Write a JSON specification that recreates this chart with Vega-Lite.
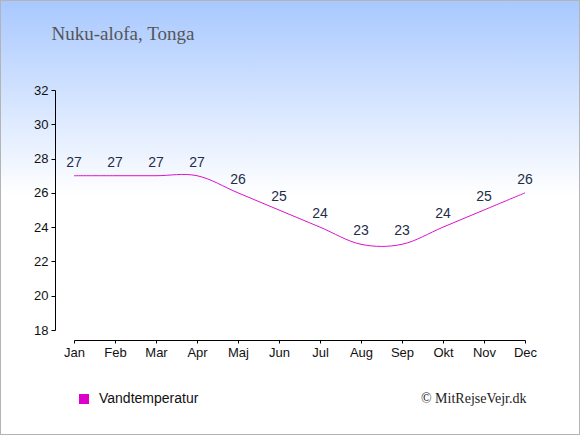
{
  "$schema": "https://vega.github.io/schema/vega-lite/v6.json",
  "width": 580,
  "height": 435,
  "autosize": {"type": "none"},
  "padding": 0,
  "background": "white",
  "data": {
    "values": [
      {"month": "Jan", "temp": 27},
      {"month": "Feb", "temp": 27},
      {"month": "Mar", "temp": 27},
      {"month": "Apr", "temp": 27},
      {"month": "Maj", "temp": 26},
      {"month": "Jun", "temp": 25},
      {"month": "Jul", "temp": 24},
      {"month": "Aug", "temp": 23},
      {"month": "Sep", "temp": 23},
      {"month": "Okt", "temp": 24},
      {"month": "Nov", "temp": 25},
      {"month": "Dec", "temp": 26}
    ]
  },
  "encoding": {
    "x": {
      "field": "month",
      "type": "ordinal",
      "sort": null,
      "scale": {"type": "point", "range": [74, 525], "padding": 0},
      "axis": {
        "orient": "bottom",
        "offset": -95,
        "labelAngle": 0,
        "tickSize": 3,
        "labelPadding": 3,
        "domainColor": "#000",
        "tickColor": "#000",
        "labelColor": "#111",
        "labelFont": "Liberation Sans",
        "labelFontSize": 13,
        "grid": false,
        "title": "© MitRejseVejr.dk",
        "titleX": 526,
        "titleY": 62,
        "titleAlign": "right",
        "titleBaseline": "alphabetic",
        "titleFont": "Liberation Serif",
        "titleFontSize": 14,
        "titleFontWeight": "normal",
        "titleColor": "#222"
      }
    },
    "y": {
      "field": "temp",
      "type": "quantitative",
      "scale": {"domain": [18, 32], "range": [330, 90]},
      "axis": {
        "orient": "left",
        "offset": -55,
        "values": [18, 20, 22, 24, 26, 28, 30, 32],
        "tickSize": 4,
        "labelPadding": 3,
        "domainColor": "#000",
        "tickColor": "#000",
        "labelColor": "#111",
        "labelFont": "Liberation Sans",
        "labelFontSize": 13,
        "grid": false,
        "title": "Nuku-alofa, Tonga",
        "titleAngle": 0,
        "titleX": -4,
        "titleY": 39,
        "titleAlign": "left",
        "titleBaseline": "alphabetic",
        "titleFont": "Liberation Serif",
        "titleFontSize": 19,
        "titleFontWeight": "normal",
        "titleColor": "#555"
      }
    }
  },
  "layer": [
    {
      "mark": {"type": "line", "interpolate": "cardinal", "strokeWidth": 1},
      "encoding": {
        "color": {
          "datum": "Vandtemperatur",
          "scale": {"range": ["#dd11cc"]},
          "legend": {
            "title": null,
            "orient": "none",
            "legendX": 77,
            "legendY": 392,
            "symbolType": "square",
            "symbolSize": 100,
            "symbolFillColor": "#dd00cc",
            "symbolStrokeWidth": 0,
            "labelFont": "Liberation Sans",
            "labelFontSize": 14,
            "labelColor": "#111",
            "labelOffset": 8
          }
        }
      }
    },
    {
      "mark": {
        "type": "text",
        "dy": -13,
        "font": "Liberation Sans",
        "fontSize": 14,
        "color": "#1f2d4a"
      },
      "encoding": {"text": {"field": "temp", "type": "quantitative"}}
    }
  ],
  "config": {
    "view": {
      "fill": {
        "gradient": "linear",
        "x1": 0, "y1": 0, "x2": 0, "y2": 1,
        "stops": [
          {"offset": 0, "color": "#a8c8ff"},
          {"offset": 0.45, "color": "#ffffff"},
          {"offset": 1, "color": "#ffffff"}
        ]
      },
      "stroke": "#b4b4b4",
      "strokeWidth": 2
    }
  }
}
